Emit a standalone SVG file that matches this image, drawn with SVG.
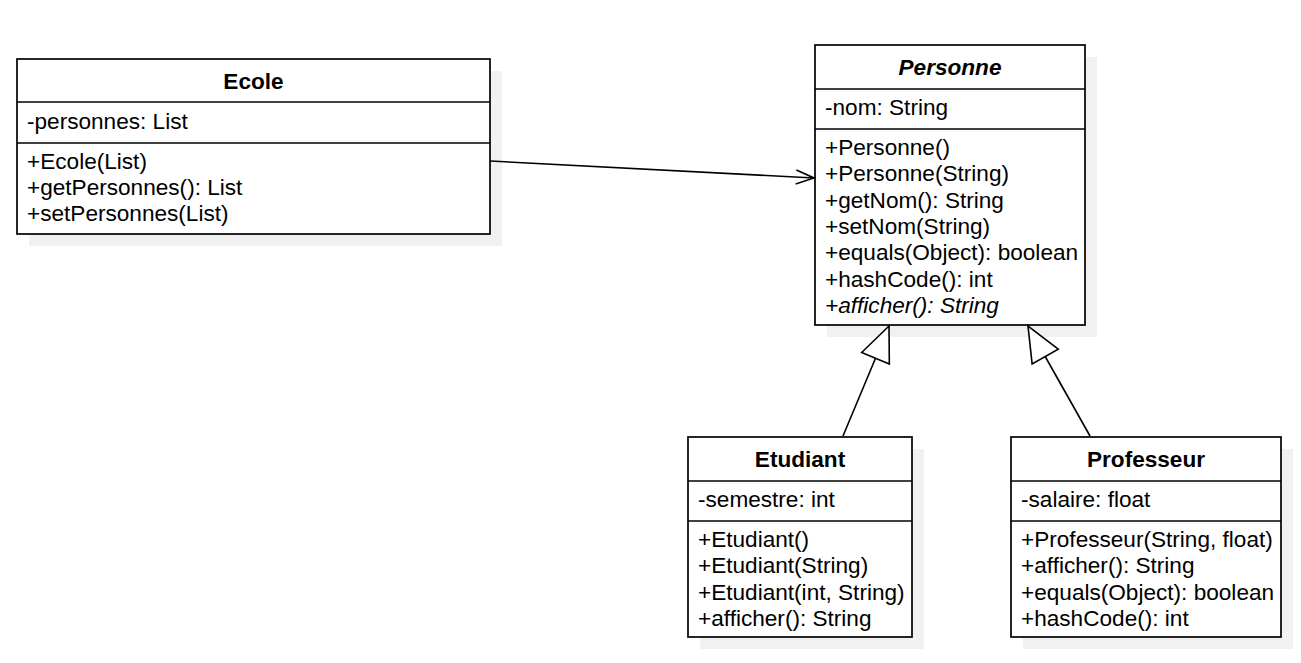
<svg xmlns="http://www.w3.org/2000/svg" width="1301" height="663" viewBox="0 0 1301 663">
<style>
.shadow{fill:#f1f1f1;stroke:none}
.box{fill:#fff;stroke:#000;stroke-width:1.7}
.div{stroke:#000;stroke-width:1.7}
text{font-family:"Liberation Sans",Arial,sans-serif;font-size:22.6px;fill:#000}
.title{font-weight:bold;text-anchor:middle}
.it{font-style:italic}
.edge{fill:none;stroke:#000;stroke-width:1.6}
</style>
<defs>
<marker id="open" markerUnits="userSpaceOnUse" markerWidth="22" markerHeight="18" refX="19" refY="8" orient="auto" overflow="visible">
<path d="M1,1 L19,8 L1,15" fill="none" stroke="#000" stroke-width="1.6"/>
</marker>
<marker id="tri" markerUnits="userSpaceOnUse" markerWidth="40" markerHeight="34" refX="36" refY="16" orient="auto" overflow="visible">
<path d="M1,1 L36,16 L1,31 Z" fill="#fff" stroke="#000" stroke-width="1.6"/>
</marker>
</defs>
<rect width="1301" height="663" fill="#fff"/>
<g id="Ecole">
<rect class="shadow" x="29" y="71" width="473" height="175"/>
<rect class="box" x="17" y="59" width="473" height="175"/>
<line class="div" x1="17" y1="102" x2="490" y2="102"/>
<line class="div" x1="17" y1="143" x2="490" y2="143"/>
<text class="title" x="253.5" y="89">Ecole</text>
<text x="27" y="129">-personnes: List</text>
<text x="27" y="169">+Ecole(List)</text>
<text x="27" y="195">+getPersonnes(): List</text>
<text x="27" y="221">+setPersonnes(List)</text>
</g>
<g id="Personne">
<rect class="shadow" x="827" y="57" width="270" height="280"/>
<rect class="box" x="815" y="45" width="270" height="280"/>
<line class="div" x1="815" y1="89" x2="1085" y2="89"/>
<line class="div" x1="815" y1="129" x2="1085" y2="129"/>
<text class="title it" x="950" y="75">Personne</text>
<text x="825" y="115">-nom: String</text>
<text x="825" y="155">+Personne()</text>
<text x="825" y="181.3">+Personne(String)</text>
<text x="825" y="207.6">+getNom(): String</text>
<text x="825" y="234">+setNom(String)</text>
<text x="825" y="260.3">+equals(Object): boolean</text>
<text x="825" y="286.6">+hashCode(): int</text>
<text class="it" x="825" y="313">+afficher(): String</text>
</g>
<g id="Etudiant">
<rect class="shadow" x="700" y="449" width="224" height="200"/>
<rect class="box" x="688" y="437" width="224" height="200"/>
<line class="div" x1="688" y1="481" x2="912" y2="481"/>
<line class="div" x1="688" y1="521" x2="912" y2="521"/>
<text class="title" x="800" y="467">Etudiant</text>
<text x="698" y="507">-semestre: int</text>
<text x="698" y="547">+Etudiant()</text>
<text x="698" y="573.3">+Etudiant(String)</text>
<text x="698" y="599.6">+Etudiant(int, String)</text>
<text x="698" y="626">+afficher(): String</text>
</g>
<g id="Professeur">
<rect class="shadow" x="1023" y="449" width="270" height="200"/>
<rect class="box" x="1011" y="437" width="270" height="200"/>
<line class="div" x1="1011" y1="481" x2="1281" y2="481"/>
<line class="div" x1="1011" y1="521" x2="1281" y2="521"/>
<text class="title" x="1146" y="467">Professeur</text>
<text x="1021" y="507">-salaire: float</text>
<text x="1021" y="547">+Professeur(String, float)</text>
<text x="1021" y="573.3">+afficher(): String</text>
<text x="1021" y="599.6">+equals(Object): boolean</text>
<text x="1021" y="626">+hashCode(): int</text>
</g>
<g id="connectors">
<path class="edge" d="M490,161 L814,178" marker-end="url(#open)"/>
<path class="edge" d="M843,436 L889,326" marker-end="url(#tri)"/>
<path class="edge" d="M1090,436 L1028,326" marker-end="url(#tri)"/>
</g>
</svg>
